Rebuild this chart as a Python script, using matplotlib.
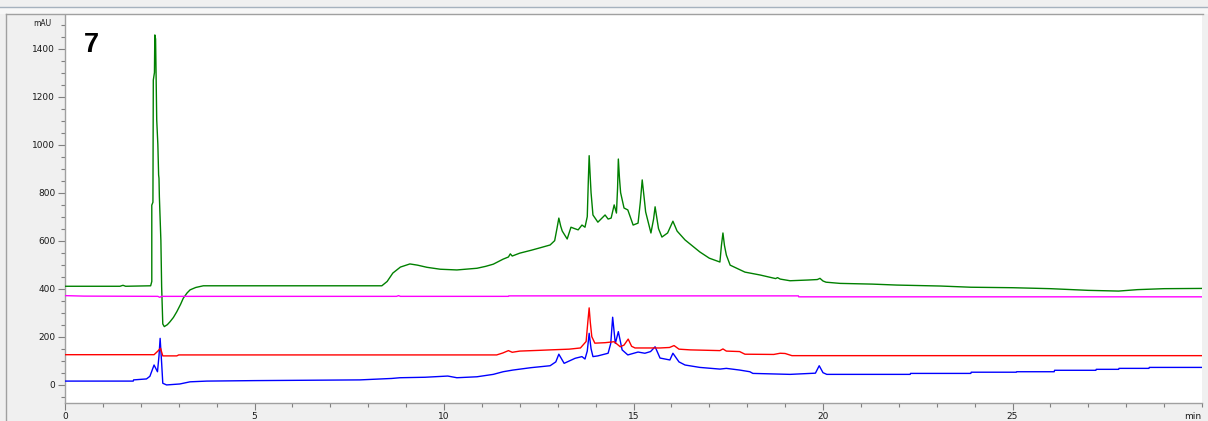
import matplotlib
matplotlib.use("Agg")
import matplotlib.pyplot as plt
from matplotlib.lines import Line2D
from matplotlib.patches import Rectangle
from matplotlib.ticker import MultipleLocator, FixedLocator, FixedFormatter

# ---- chromatogram traces (retention time in min, absorbance in mAU) ----
green_t = [0.0, 1.45, 1.53, 1.6, 2.26, 2.29, 2.29, 2.32, 2.33, 2.36, 2.37, 2.39, 2.42,
           2.45, 2.47, 2.48, 2.49, 2.53, 2.55, 2.58, 2.62, 2.70, 2.77, 2.86, 2.95, 3.05,
           3.12, 3.22, 3.30, 3.45, 3.65, 8.36, 8.5, 8.65, 8.85, 9.1, 9.3, 9.55, 9.9,
           10.34, 10.87, 11.1, 11.3, 11.56, 11.7, 11.75, 11.8, 12.0, 12.3, 12.53, 12.8,
           12.92, 12.98, 13.03, 13.08, 13.12, 13.25, 13.35, 13.45, 13.54, 13.64, 13.72,
           13.78, 13.81, 13.83, 13.86, 13.88, 13.93, 14.06, 14.25, 14.33, 14.41, 14.49,
           14.55, 14.58, 14.6, 14.63, 14.66, 14.75, 14.85, 14.99, 15.12, 15.18, 15.23,
           15.28, 15.32, 15.46, 15.53, 15.57, 15.62, 15.66, 15.75, 15.9, 16.04, 16.15,
           16.36, 16.75, 17.0, 17.28, 17.32, 17.36, 17.40, 17.45, 17.55, 17.94, 18.34,
           18.75, 18.8, 18.87, 19.13, 19.6, 19.85, 19.92, 20.0, 20.08, 20.45, 21.3,
           21.95, 23.1, 23.9, 25.0, 26.0, 27.0, 27.8, 28.3, 29.0, 30.0]
green_v = [410, 410, 414, 410, 412, 430, 748, 760, 1269, 1300, 1457, 1440, 1103,
           1000, 874, 860, 783, 600, 408, 253, 242, 250, 262, 280, 304, 335,
           360, 382, 395, 405, 412, 412, 430, 465, 490, 503, 498, 489, 481,
           478, 485, 493, 502, 523, 532, 545, 536, 548, 560, 570, 582,
           600, 650, 694, 660, 640, 607, 656, 650, 645, 665, 656,
           700, 860, 954, 860, 800, 707, 677, 707, 690, 694, 749,
           715, 820, 940, 860, 800, 736, 728, 665, 673, 760, 853,
           780, 720, 632, 690, 741, 690, 650, 615, 632, 681, 640,
           603, 553, 527, 511, 580, 632, 580, 540, 498, 469, 457,
           442, 446, 440, 433, 436, 438, 443, 432, 427, 422, 419,
           415, 411, 406, 404, 400, 393, 390, 396, 400, 401]

magenta_t = [0.0, 0.5, 2.45, 2.5, 2.55, 8.75, 8.8, 8.85, 11.7, 11.71, 19.35, 19.36, 30.0]
magenta_v = [371, 369, 368, 364, 368, 368, 371, 368, 368, 370, 370, 366, 366]

red_t = [0.0, 2.35, 2.45, 2.52, 2.58, 2.95, 3.0, 11.39, 11.55, 11.7, 11.8, 12.0, 12.5,
         12.8, 13.3, 13.6, 13.75, 13.8, 13.83, 13.86, 13.9, 13.98, 14.25, 14.49, 14.65,
         14.75, 14.86, 14.95, 15.04, 15.7, 15.95, 16.07, 16.2, 16.5, 17.28, 17.36, 17.45,
         17.8, 17.94, 18.7, 18.87, 19.0, 19.18, 30.0]
red_v = [125, 125, 140, 152, 120, 120, 124, 124, 132, 142, 135, 140, 143,
         145, 148, 153, 180, 270, 320, 260, 200, 173, 175, 179, 158,
         165, 190, 160, 153, 153, 155, 163, 148, 145, 142, 149, 140,
         138, 127, 126, 131, 130, 121, 121]

blue_t = [0.0, 1.8, 1.81, 2.15, 2.24, 2.35, 2.44, 2.48, 2.51, 2.55, 2.58, 2.68, 3.03,
          3.3, 3.74, 5.0, 7.78, 8.62, 8.84, 9.5, 10.1, 10.34, 10.87, 11.3, 11.56, 11.82,
          12.3, 12.8, 12.95, 13.03, 13.17, 13.46, 13.64, 13.72, 13.78, 13.83, 13.88,
          13.93, 14.06, 14.33, 14.4, 14.45, 14.52, 14.55, 14.6, 14.7, 14.85, 15.12,
          15.3, 15.45, 15.57, 15.70, 15.96, 16.04, 16.2, 16.36, 16.75, 17.28, 17.45,
          17.8, 18.07, 18.15, 19.13, 19.8, 19.9, 20.0, 20.1, 22.3, 22.31, 23.9, 23.91,
          25.1, 25.11, 26.1, 26.11, 27.2, 27.21, 27.8, 27.81, 28.6, 28.61, 30.0]
blue_v = [15, 15, 20, 24, 35, 82, 54, 120, 193, 90, 6, -1, 3,
          12, 15, 17, 20, 26, 29, 31, 36, 29, 33, 43, 54, 61,
          71, 79, 95, 127, 89, 110, 117, 107, 140, 214, 150,
          117, 120, 131, 172, 281, 172, 190, 221, 145, 124, 136,
          131, 138, 158, 111, 103, 131, 95, 82, 72, 65, 68,
          61, 54, 47, 43, 48, 79, 50, 43, 43, 47, 47, 52,
          52, 54, 54, 60, 60, 64, 64, 68, 68, 72, 72]

x_major = [0, 5, 10, 15, 20, 25]
x_labels = ["0", "5", "10", "15", "20", "25"]
y_major = [0, 200, 400, 600, 800, 1000, 1200, 1400]
y_labels = ["0", "200", "400", "600", "800", "1000", "1200", "1400"]
x_unit = "min"
y_unit = "mAU"
panel_label = "7"

W, H = 1208, 421
fig = plt.figure(figsize=(W / 100, H / 100), dpi=100, facecolor="#f0f0f0")


def fx(px):
    return px / W


def fy(py):
    return 1 - py / H


# window chrome: top strip and panel frame
fig.add_artist(Rectangle((0, fy(14)), 1, fy(7) - fy(14), transform=fig.transFigure,
                         facecolor="#f7f7f7", edgecolor="none", zorder=0))
fig.add_artist(Line2D([0, 1], [fy(6.5), fy(6.5)], transform=fig.transFigure,
                      color="#a6b2be", lw=1.0))
fig.add_artist(Line2D([fx(6), fx(1203)], [fy(14), fy(14)], transform=fig.transFigure,
                      color="#a0a0a0", lw=1.0))
fig.add_artist(Line2D([fx(6), fx(6)], [fy(14), 0], transform=fig.transFigure,
                      color="#a0a0a0", lw=1.0))

ax = fig.add_axes([fx(65), fy(402.7), fx(1202) - fx(65), fy(15) - fy(402.7)])
ax.set_facecolor("white")

ax.plot(green_t, green_v, color="#008000", lw=1.0, zorder=3)
ax.plot(magenta_t, magenta_v, color="#ff00ff", lw=1.0, zorder=3)
ax.plot(blue_t, blue_v, color="#0000ff", lw=1.0, zorder=3)
ax.plot(red_t, red_v, color="#ff0000", lw=1.0, zorder=4)

ax.set_xlim(0, 30)
ax.set_ylim(-75, 1540)

for side in ("top", "right"):
    ax.spines[side].set_visible(False)
for side in ("left", "bottom"):
    ax.spines[side].set_color("#a0a0a0")
    ax.spines[side].set_linewidth(1.0)

ax.xaxis.set_major_locator(FixedLocator(x_major))
ax.xaxis.set_major_formatter(FixedFormatter(x_labels))
ax.xaxis.set_minor_locator(MultipleLocator(1))
ax.yaxis.set_major_locator(FixedLocator(y_major))
ax.yaxis.set_major_formatter(FixedFormatter(y_labels))
ax.yaxis.set_minor_locator(MultipleLocator(50))

ax.tick_params(axis="both", which="major", direction="out", color="#808080",
               labelcolor="#1a1a1a", labelsize=6.5, width=0.8)
ax.tick_params(axis="y", which="major", length=5, pad=2)
ax.tick_params(axis="x", which="major", length=5, pad=1.5)
ax.tick_params(axis="both", which="minor", direction="out", color="#808080",
               length=3, width=0.8)
for lbl in ax.get_xticklabels() + ax.get_yticklabels():
    lbl.set_family("DejaVu Sans")

# axis unit captions
ax.annotate(x_unit, xy=(1, 0), xycoords="axes fraction", xytext=(-0.5, -6.5),
            textcoords="offset points", ha="right", va="top", fontsize=6.5,
            family="DejaVu Sans", color="#1a1a1a")
fig.text(fx(51), fy(23), y_unit, ha="right", va="center", fontsize=5.5,
         family="DejaVu Sans", color="#1a1a1a")

fig.text(fx(83.7), fy(51.7), panel_label, ha="left", va="baseline", fontsize=19.5,
         fontweight="bold", family="Liberation Sans", color="black")

fig.savefig("out.png", dpi=100, facecolor=fig.get_facecolor())
